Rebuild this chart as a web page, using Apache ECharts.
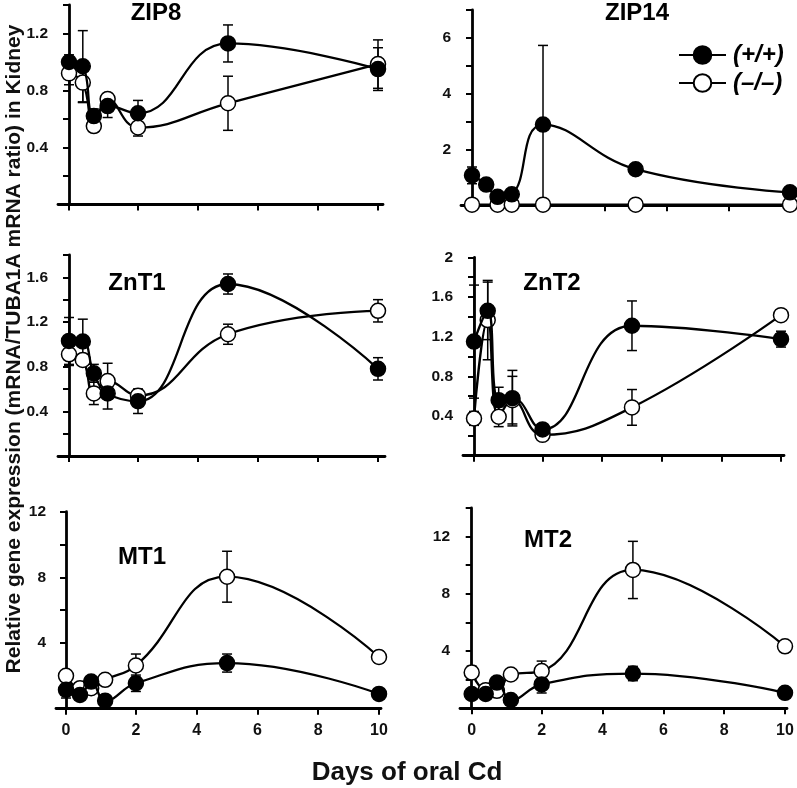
<!DOCTYPE html>
<html><head><meta charset="utf-8">
<script src="https://cdn.jsdelivr.net/npm/echarts@6/dist/echarts.min.js"></script>
<style>html,body{margin:0;padding:0;background:#fff}#c{width:797px;height:788px}</style>
</head><body><div id="c"></div><script>
// ---- data (days of oral Cd) ----
const days = [0, 0.4, 0.72, 1.12, 2, 5, 10];
const xTickDays = [0, 2, 4, 6, 8, 10];
const seriesNames = ['(+/+)', '(\u2013/\u2013)'];

const zip8WT = [1.00, 0.97, 0.62, 0.69, 0.64, 1.13, 0.95];
const zip8WTErr = [0.05, 0.25, 0.05, 0.08, 0.09, 0.13, 0.15];
const zip8KO = [0.92, 0.855, 0.55, 0.74, 0.54, 0.71, 0.985];
const zip8KOErr = [0.08, 0.14, 0.04, 0.04, 0.06, 0.19, 0.17];

const zip14WT = [1.07, 0.74, 0.30, 0.39, 2.89, 1.29, 0.46];
const zip14WTErr = [0.30, 0.05, 0.05, 0.05, 2.84, 0.08, 0.05];
const zip14KO = [0.02, null, 0.02, 0.02, 0.02, 0.02, 0.02];
const zip14KOErr = [0, null, 0, 0, 0, 0, 0];

const znt1WT = [1.03, 1.025, 0.74, 0.56, 0.49, 1.54, 0.78];
const znt1WTErr = [0.21, 0.20, 0.08, 0.14, 0.11, 0.09, 0.10];
const znt1KO = [0.91, 0.86, 0.56, 0.67, 0.54, 1.09, 1.30];
const znt1KOErr = [0.10, 0.05, 0.10, 0.16, 0.05, 0.09, 0.10];

const znt2WT = [1.15, 1.46, 0.56, 0.58, 0.265, 1.31, 1.175];
const znt2WTErr = [0.57, 0.29, 0.13, 0.28, 0.05, 0.25, 0.08];
const znt2KO = [0.376, 1.367, 0.393, 0.56, 0.21, 0.487, 1.417];
const znt2KOErr = [0.07, 0.40, 0.10, 0.24, 0.03, 0.18, 0.05];

const mt1WT = [1.15, 0.84, 1.65, 0.49, 1.55, 2.78, 0.90];
const mt1WTErr = [0.5, 0.2, 0.3, 0.2, 0.5, 0.55, 0.2];
const mt1KO = [2.00, 1.25, 1.25, 1.76, 2.63, 8.04, 3.15];
const mt1KOErr = [0.3, 0.2, 0.2, 0.2, 0.7, 1.55, 0.35];

const mt2WT = [1.00, 1.00, 1.80, 0.58, 1.67, 2.43, 1.08];
const mt2WTErr = [0.3, 0.2, 0.4, 0.2, 0.6, 0.5, 0.2];
const mt2KO = [2.50, 1.27, 1.22, 2.36, 2.60, 9.67, 4.33];
const mt2KOErr = [0.45, 0.2, 0.2, 0.2, 0.7, 2.0, 0.3];

// ---- layout ----
const FONT = "'Liberation Sans', Arial, Helvetica, sans-serif";
const panels = [
  {title:'ZIP8', wt:zip8WT, wtE:zip8WTErr, ko:zip8KO, koE:zip8KOErr, yMax:1.4, yStep:0.2, yLabels:[0.4,0.8,1.2],
   ax:58, x0:69, x10:378, right:383, top:5, bottom:204.4, tx:156, ty:13, xLab:false},
  {title:'ZIP14', wt:zip14WT, wtE:zip14WTErr, ko:zip14KO, koE:zip14KOErr, yMax:7, yStep:1, yLabels:[2,4,6],
   ax:461, x0:472, x10:790, right:797, top:10, bottom:205.2, tx:637, ty:13, xLab:false},
  {title:'ZnT1', wt:znt1WT, wtE:znt1WTErr, ko:znt1KO, koE:znt1KOErr, yMax:1.8, yStep:0.2, yLabels:[0.4,0.8,1.2,1.6],
   ax:58, x0:69, x10:378, right:385, top:255, bottom:455.9, tx:137, ty:283, xLab:false},
  {title:'ZnT2', wt:znt2WT, wtE:znt2WTErr, ko:znt2KO, koE:znt2KOErr, yMax:2, yStep:0.2, yLabels:[0.4,0.8,1.2,1.6,2],
   ax:463, x0:474, x10:781, right:784, top:257.3, bottom:455.7, tx:552, ty:283, xLab:false},
  {title:'MT1', wt:mt1WT, wtE:mt1WTErr, ko:mt1KO, koE:mt1KOErr, yMax:12, yStep:2, yLabels:[4,8,12],
   ax:56, x0:66, x10:379, right:381, top:511.7, bottom:708.7, tx:142, ty:557, xLab:true},
  {title:'MT2', wt:mt2WT, wtE:mt2WTErr, ko:mt2KO, koE:mt2KOErr, yMax:14, yStep:2, yLabels:[4,8,12],
   ax:460, x0:471.7, x10:785, right:787, top:508, bottom:708.3, tx:548, ty:540, xLab:true}
];

// piecewise day axis: first two days are stretched
const STRETCH = 1.15;
const toT = d => d <= 2 ? d * STRETCH : d + 2 * STRETCH - 2;
const fromT = t => t <= 2 * STRETCH + 1e-6 ? t / STRETCH : t - (2 * STRETCH - 2);
const tMax = toT(10);

const grid = [], xAxis = [], yAxis = [], series = [], graphic = [];

function errRender(params, api) {
  const x = api.value(0), y = api.value(1), e = api.value(2);
  if (!e) return null;
  const t = api.coord([x, y + e]), b = api.coord([x, y - e]);
  const hw = 5, st = {stroke:'#000', lineWidth:1.5};
  return {type:'group', children:[
    {type:'line', shape:{x1:t[0], y1:t[1], x2:b[0], y2:b[1]}, style:st},
    {type:'line', shape:{x1:t[0]-hw, y1:t[1], x2:t[0]+hw, y2:t[1]}, style:st},
    {type:'line', shape:{x1:b[0]-hw, y1:b[1], x2:b[0]+hw, y2:b[1]}, style:st}
  ]};
}

panels.forEach((p, i) => {
  const ppu = (p.x10 - p.x0) / tMax;
  grid.push({left:p.ax, top:p.top, width:p.right - p.ax, height:p.bottom - p.top, containLabel:false});
  const tickT = xTickDays.map(toT);
  xAxis.push({
    type:'value', gridIndex:i,
    min: -(p.x0 - p.ax) / ppu, max: tMax + (p.right - p.x10) / ppu,
    axisLine:{show:true, onZero:false, lineStyle:{color:'#000', width:2.8}},
    axisTick:{show:true, customValues:tickT, length:6, lineStyle:{color:'#000', width:2}},
    axisLabel:{show:p.xLab, customValues:tickT, margin:14, color:'#111', fontSize:16, fontWeight:'bold', fontFamily:FONT,
      formatter: v => String(Math.round(fromT(v)))},
    splitLine:{show:false}
  });
  yAxis.push({
    type:'value', gridIndex:i, min:0, max:p.yMax, interval:p.yStep,
    axisLine:{show:true, lineStyle:{color:'#000', width:2.8}},
    axisTick:{show:true, length:6, lineStyle:{color:'#000', width:2}},
    axisLabel:{margin:10, color:'#111', fontSize:15.5, fontWeight:'bold', fontFamily:FONT,
      formatter: v => p.yLabels.some(l => Math.abs(l - v) < 1e-6) ? String(+v.toFixed(2)) : ''},
    splitLine:{show:false}
  });
  const mk = (vals) => days.map((d, k) => vals[k] == null ? null : [toT(d), vals[k]]).filter(Boolean);
  const mkE = (vals, errs) => days.map((d, k) => vals[k] == null ? null : [toT(d), vals[k], errs[k]]).filter(Boolean);
  // error bars
  [[p.ko, p.koE], [p.wt, p.wtE]].forEach(([v, e]) => {
    series.push({type:'custom', xAxisIndex:i, yAxisIndex:i, renderItem:errRender, data:mkE(v, e), z:1, clip:false, silent:true});
  });
  // lines + markers: knockout (open) first, wild type (filled) on top
  series.push({
    name:seriesNames[1], type:'line', xAxisIndex:i, yAxisIndex:i, data:mk(p.ko), smooth:0.45,
    symbol:'circle', symbolSize:15, clip:false, z:3,
    lineStyle:{color:'#000', width:2.3}, itemStyle:{color:'#fff', borderColor:'#000', borderWidth:1.5},
    emphasis:{disabled:true}
  });
  series.push({
    name:seriesNames[0], type:'line', xAxisIndex:i, yAxisIndex:i, data:mk(p.wt), smooth:0.45,
    symbol:'circle', symbolSize:15, clip:false, z:4,
    lineStyle:{color:'#000', width:2.3}, itemStyle:{color:'#000', borderColor:'#000', borderWidth:1.5},
    emphasis:{disabled:true}
  });
  graphic.push({type:'text', x:p.tx, y:p.ty, style:{text:p.title, font:'bold 24px ' + FONT, fill:'#000',
    textAlign:'center', textVerticalAlign:'middle'}});
});

graphic.push({type:'text', x:14, y:349, rotation:Math.PI/2, style:{
  text:'Relative gene expression (mRNA/TUBA1A mRNA ratio) in Kidney', font:'bold 21px ' + FONT, fill:'#111',
  textAlign:'center', textVerticalAlign:'middle'}});
graphic.push({type:'text', x:407, y:773, style:{text:'Days of oral Cd', font:'bold 26px ' + FONT, fill:'#111',
  textAlign:'center', textVerticalAlign:'middle'}});

const chart = echarts.init(document.getElementById('c'), null, {renderer:'canvas'});
chart.setOption({
  animation:false,
  backgroundColor:'#fff',
  legend:{data:seriesNames, orient:'vertical', left:673, top:38, itemWidth:47, itemHeight:22, itemGap:4,
    textStyle:{fontSize:24, fontWeight:'bold', fontStyle:'italic', fontFamily:FONT, color:'#000', padding:[0,0,0,2]}},
  grid, xAxis, yAxis, series, graphic
});
</script></body></html>
